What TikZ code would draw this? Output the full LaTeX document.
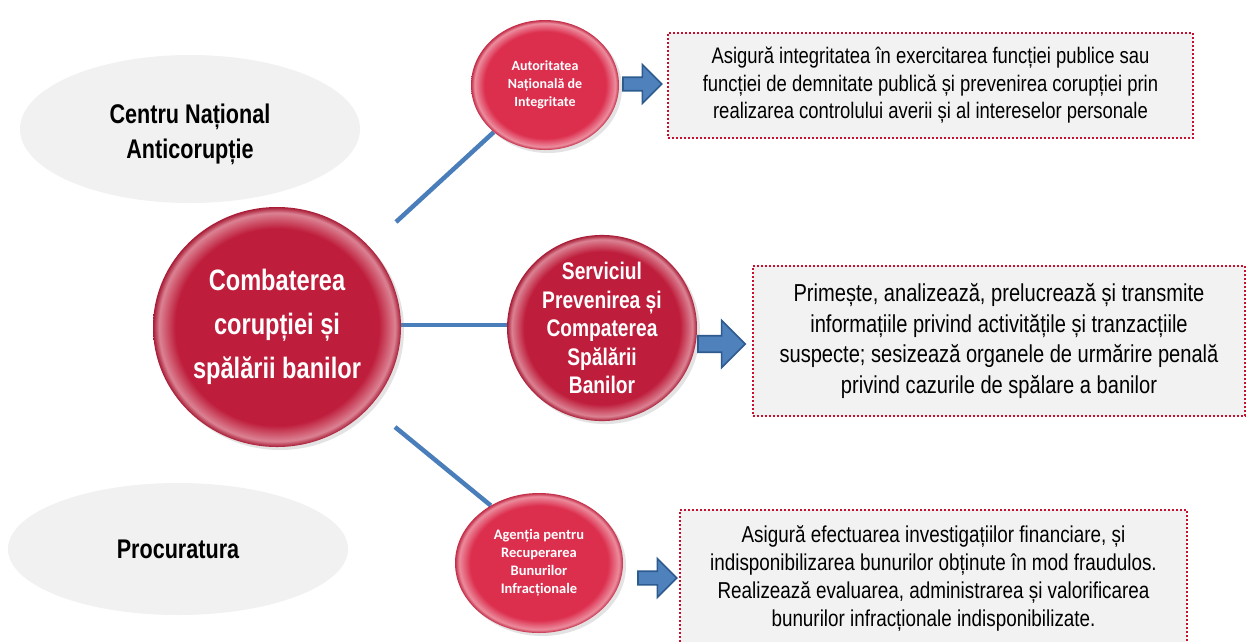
\documentclass[tikz,border=0pt]{standalone}
\usepackage{fontspec}
\usetikzlibrary{shapes.geometric,shadows}
\setmainfont{Liberation Sans}
\newfontfamily\condfont[FakeStretch=0.82]{Liberation Sans}
\newfontfamily\condbold[FakeStretch=0.8]{Liberation Sans}
\newfontfamily\calibfont{Carlito}

\definecolor{ballred}{HTML}{DC2F4E}
\definecolor{balldark}{HTML}{BE1D3B}
\definecolor{linkblue}{HTML}{4A7EBB}
\definecolor{arrowfill}{HTML}{4F81BD}
\definecolor{arrowedge}{HTML}{2E5B8E}
\definecolor{boxfill}{HTML}{F2F2F2}
\definecolor{boxedge}{HTML}{C8102E}
\definecolor{ovalfill}{HTML}{F1F1F1}

% glossy ball: flat body, light rim just inside the edge
\colorlet{ballbase}{ballred}
\colorlet{ballrim}{ballred!50!white}
\colorlet{ballshadow}{ballred!85!black}
\pgfdeclareradialshading[ballbase,ballrim,ballshadow]{glossy}{\pgfpoint{0bp}{0bp}}{%
  color(0bp)=(ballbase); color(20.5bp)=(ballbase); color(23.8bp)=(ballrim);
  color(25bp)=(ballshadow); color(50bp)=(ballshadow)}

\pgfdeclarelayer{bg}
\pgfsetlayers{bg,main}

\tikzset{
  ball/.style={ellipse, inner sep=0pt, text=white, align=center,
    /utils/exec={\colorlet{ballbase}{#1}\colorlet{ballrim}{#1!55!white}\colorlet{ballshadow}{#1!88!black}},
    shading=glossy,
    drop shadow={opacity=.22, shadow xshift=3pt, shadow yshift=-3pt}},
  oval/.style={ellipse, fill=ovalfill, inner sep=0pt},
  ovaltext/.style={align=center, inner sep=0pt,
    font=\condbold\bfseries\fontsize{27}{35}\selectfont},
  link/.style={draw=linkblue, line width=4.5pt},
  infobox/.style={draw=boxedge, fill=boxfill, line width=2pt,
    dash pattern=on 2pt off 2pt, align=center, inner sep=0pt},
  blockarrow/.pic={
    \draw[draw=arrowedge, fill=arrowfill, line width=1.6pt, line join=miter]
      (0,-7) -- (20,-7) -- (20,-20) -- (40,0) -- (20,20) -- (20,7) -- (0,7) -- cycle;}
}

\begin{document}
\begin{tikzpicture}[x=1pt,y=-1pt]
\useasboundingbox (0,0) rectangle (1247,641);
\begin{pgfonlayer}{bg}
\fill[white] (0,0) rectangle (1247,641);
\end{pgfonlayer}

% grey bodies on the left
\node[oval, minimum width=340pt, minimum height=148pt] (cna) at (190,129) {};
\node[ovaltext] (cnatext) at (190,134) {Centru Național\\Anticorupție};
\node[oval, minimum width=340pt, minimum height=132pt] (proc) at (178,549) {};
\node[ovaltext] (proctext) at (178,549) {Procuratura};

% central and satellite balls
\node[ball=balldark, minimum width=248pt, minimum height=240pt,
  font=\condbold\bfseries\fontsize{29.5}{44}\selectfont] (main) at (277,327)
  {Combaterea\\corupției și\\spălării banilor};
\node[ball=ballred, minimum width=148pt, minimum height=130pt,
  font=\calibfont\bfseries\fontsize{14}{18}\selectfont] (ani) at (545,85)
  {Autoritatea\\Națională de\\Integritate};
\node[ball=balldark, minimum width=190pt, minimum height=178pt,
  font=\condbold\bfseries\fontsize{24}{28.5}\selectfont] (srv) at (602,328)
  {Serviciul\\Prevenirea și\\Compaterea\\Spălării\\Banilor};
\node[ball=ballred, minimum width=168pt, minimum height=140pt,
  font=\calibfont\bfseries\fontsize{14.5}{18}\selectfont] (arbi) at (539,563)
  {Agenția pentru\\Recuperarea\\Bunurilor\\Infracționale};

% connectors from the central ball
\coordinate (l1s) at (396,222);
\coordinate (l2s) at (396,325);
\coordinate (l3s) at (395,427);
\begin{pgfonlayer}{bg}
\draw[link] (l1s) -- (ani);
\draw[link] (l2s) -- (l2s -| srv.west);
\draw[link] (l3s) -- (arbi.130);
\end{pgfonlayer}

% block arrows
\pic[scale=0.97] at (623,84) {blockarrow};
\pic[scale=1.18] at (698,344) {blockarrow};
\pic[scale=0.97] at (638,578) {blockarrow};

% description boxes
\node[infobox, minimum width=525pt, minimum height=105pt,
  font=\condfont\fontsize{22.5}{27.5}\selectfont] (d1) at (930.5,85.5)
  {Asigură integritatea în exercitarea funcției publice sau\\
   funcției de demnitate publică și prevenirea corupției prin\\
   realizarea controlului averii și al intereselor personale};
\node[infobox, minimum width=492pt, minimum height=150pt,
  font=\condfont\fontsize{24.5}{30.5}\selectfont] (d2) at (999,341)
  {Primește, analizează, prelucrează și transmite\\
   informațiile privind activitățile și tranzacțiile\\
   suspecte; sesizează organele de urmărire penală\\
   privind cazurile de spălare a banilor};
\node[infobox, minimum width=507pt, minimum height=136pt,
  font=\condfont\fontsize{23}{28}\selectfont] (d3) at (933.5,578)
  {Asigură efectuarea investigațiilor financiare, și\\
   indisponibilizarea bunurilor obținute în mod fraudulos.\\
   Realizează evaluarea, administrarea și valorificarea\\
   bunurilor infracționale indisponibilizate.};
\end{tikzpicture}
\end{document}
